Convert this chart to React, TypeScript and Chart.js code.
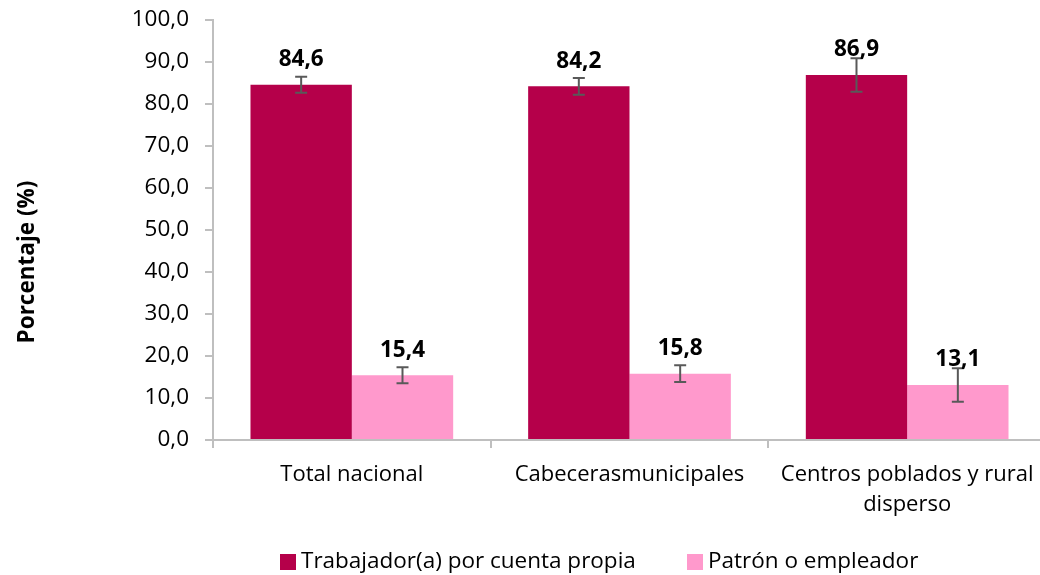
import React, { useEffect, useRef } from "react";
import { Chart, registerables } from "chart.js";

Chart.register(...registerables);

const categories: (string | string[])[] = [
  "Total nacional",
  "Cabecerasmunicipales",
  ["Centros poblados y rural", "disperso"],
];
const seriesNames = ["Trabajador(a) por cuenta propia", "Patrón o empleador"];
const cuentaPropia = [84.6, 84.2, 86.9];
const patron = [15.4, 15.8, 13.1];
const cuentaPropiaErr = [1.9, 2.0, 4.0];
const patronErr = [1.9, 2.0, 4.0];
const yTicks = [0, 10, 20, 30, 40, 50, 60, 70, 80, 90, 100];

const colors = ["#B5004A", "#FF99CC"];
const FONT = "'Open Sans', 'Noto Sans', sans-serif";

const fmt = (v: number) => v.toFixed(1).replace(".", ",");

const errorBarsPlugin = {
  id: "errorBars",
  afterDatasetsDraw(chart: any) {
    const ctx = chart.ctx;
    const y = chart.scales.y;
    const errs = [cuentaPropiaErr, patronErr];
    ctx.save();
    ctx.strokeStyle = "#595959";
    ctx.lineWidth = 2;
    chart.data.datasets.forEach((ds: any, di: number) => {
      const meta = chart.getDatasetMeta(di);
      meta.data.forEach((bar: any, i: number) => {
        const v = ds.data[i];
        const e = errs[di][i];
        const yt = y.getPixelForValue(v + e);
        const yb = y.getPixelForValue(v - e);
        const x = bar.x;
        ctx.beginPath();
        ctx.moveTo(x, yt);
        ctx.lineTo(x, yb);
        ctx.moveTo(x - 6, yt);
        ctx.lineTo(x + 6, yt);
        ctx.moveTo(x - 6, yb);
        ctx.lineTo(x + 6, yb);
        ctx.stroke();
      });
    });
    ctx.restore();
  },
};

const labelsPlugin = {
  id: "valueLabels",
  afterDraw(chart: any) {
    const ctx = chart.ctx;
    ctx.save();
    ctx.font = `bold 22.5px ${FONT}`;
    ctx.fillStyle = "#000000";
    ctx.textAlign = "center";
    ctx.textBaseline = "middle";
    chart.data.datasets.forEach((ds: any, di: number) => {
      const meta = chart.getDatasetMeta(di);
      meta.data.forEach((bar: any, i: number) => {
        ctx.fillText(fmt(ds.data[i]), bar.x, bar.y - 25);
      });
    });
    // y-axis title
    ctx.save();
    ctx.translate(28, 262);
    ctx.rotate(-Math.PI / 2);
    ctx.font = `bold 22.5px ${FONT}`;
    ctx.fillText("Porcentaje (%)", 0, 0);
    ctx.restore();
    // legend
    ctx.font = `22.5px ${FONT}`;
    ctx.textAlign = "left";
    const starts = [280, 687];
    seriesNames.forEach((name, i) => {
      ctx.fillStyle = colors[i];
      ctx.fillRect(starts[i], 554, 16, 16);
      ctx.fillStyle = "#000000";
      ctx.fillText(name, starts[i] + 21, 562);
    });
    ctx.restore();
  },
};

export default function App() {
  const ref = useRef<HTMLCanvasElement>(null);
  useEffect(() => {
    if (!ref.current) return;
    const chart = new Chart(ref.current, {
      type: "bar",
      data: {
        labels: categories,
        datasets: [
          {
            label: seriesNames[0],
            data: cuentaPropia,
            backgroundColor: colors[0],
            categoryPercentage: 0.73,
            barPercentage: 1.0,
          },
          {
            label: seriesNames[1],
            data: patron,
            backgroundColor: colors[1],
            categoryPercentage: 0.73,
            barPercentage: 1.0,
          },
        ],
      },
      options: {
        responsive: false,
        animation: false,
        layout: { padding: { top: 20, right: 0, left: 0, bottom: 0 } },
        plugins: {
          legend: { display: false },
          tooltip: { enabled: false },
        },
        scales: {
          x: {
            afterFit: (s: any) => {
              s.height = 135;
            },
            border: { color: "#BFBFBF", width: 2 },
            grid: {
              display: true,
              drawOnChartArea: false,
              drawTicks: true,
              tickLength: 8,
              offset: true,
              color: "#BFBFBF",
              lineWidth: 2,
            },
            ticks: {
              color: "#000000",
              font: { family: FONT, size: 22, lineHeight: 1.4 },
              padding: 11,
              maxRotation: 0,
            },
          },
          y: {
            min: 0,
            max: 100,
            afterFit: (s: any) => {
              s.width = 213;
              s.paddingTop = 0;
              s.paddingBottom = 0;
            },
            afterBuildTicks: (s: any) => {
              s.ticks = yTicks.map((v) => ({ value: v }));
            },
            border: { color: "#BFBFBF", width: 2 },
            grid: {
              display: true,
              drawOnChartArea: false,
              drawTicks: true,
              tickLength: 8,
              color: "#BFBFBF",
              lineWidth: 2,
            },
            ticks: {
              color: "#000000",
              font: { family: FONT, size: 22.5 },
              padding: 16,
              callback: (v: any) => fmt(Number(v)),
            },
          },
        },
      },
      plugins: [errorBarsPlugin, labelsPlugin],
    });
    return () => chart.destroy();
  }, []);
  return (
    <div
      style={{
        position: "fixed",
        left: 0,
        top: 0,
        width: 1040,
        height: 575,
        overflow: "hidden",
        background: "#fff",
      }}
    >
      <canvas ref={ref} width={1046} height={575} style={{ width: 1046, height: 575 }} />
    </div>
  );
}
